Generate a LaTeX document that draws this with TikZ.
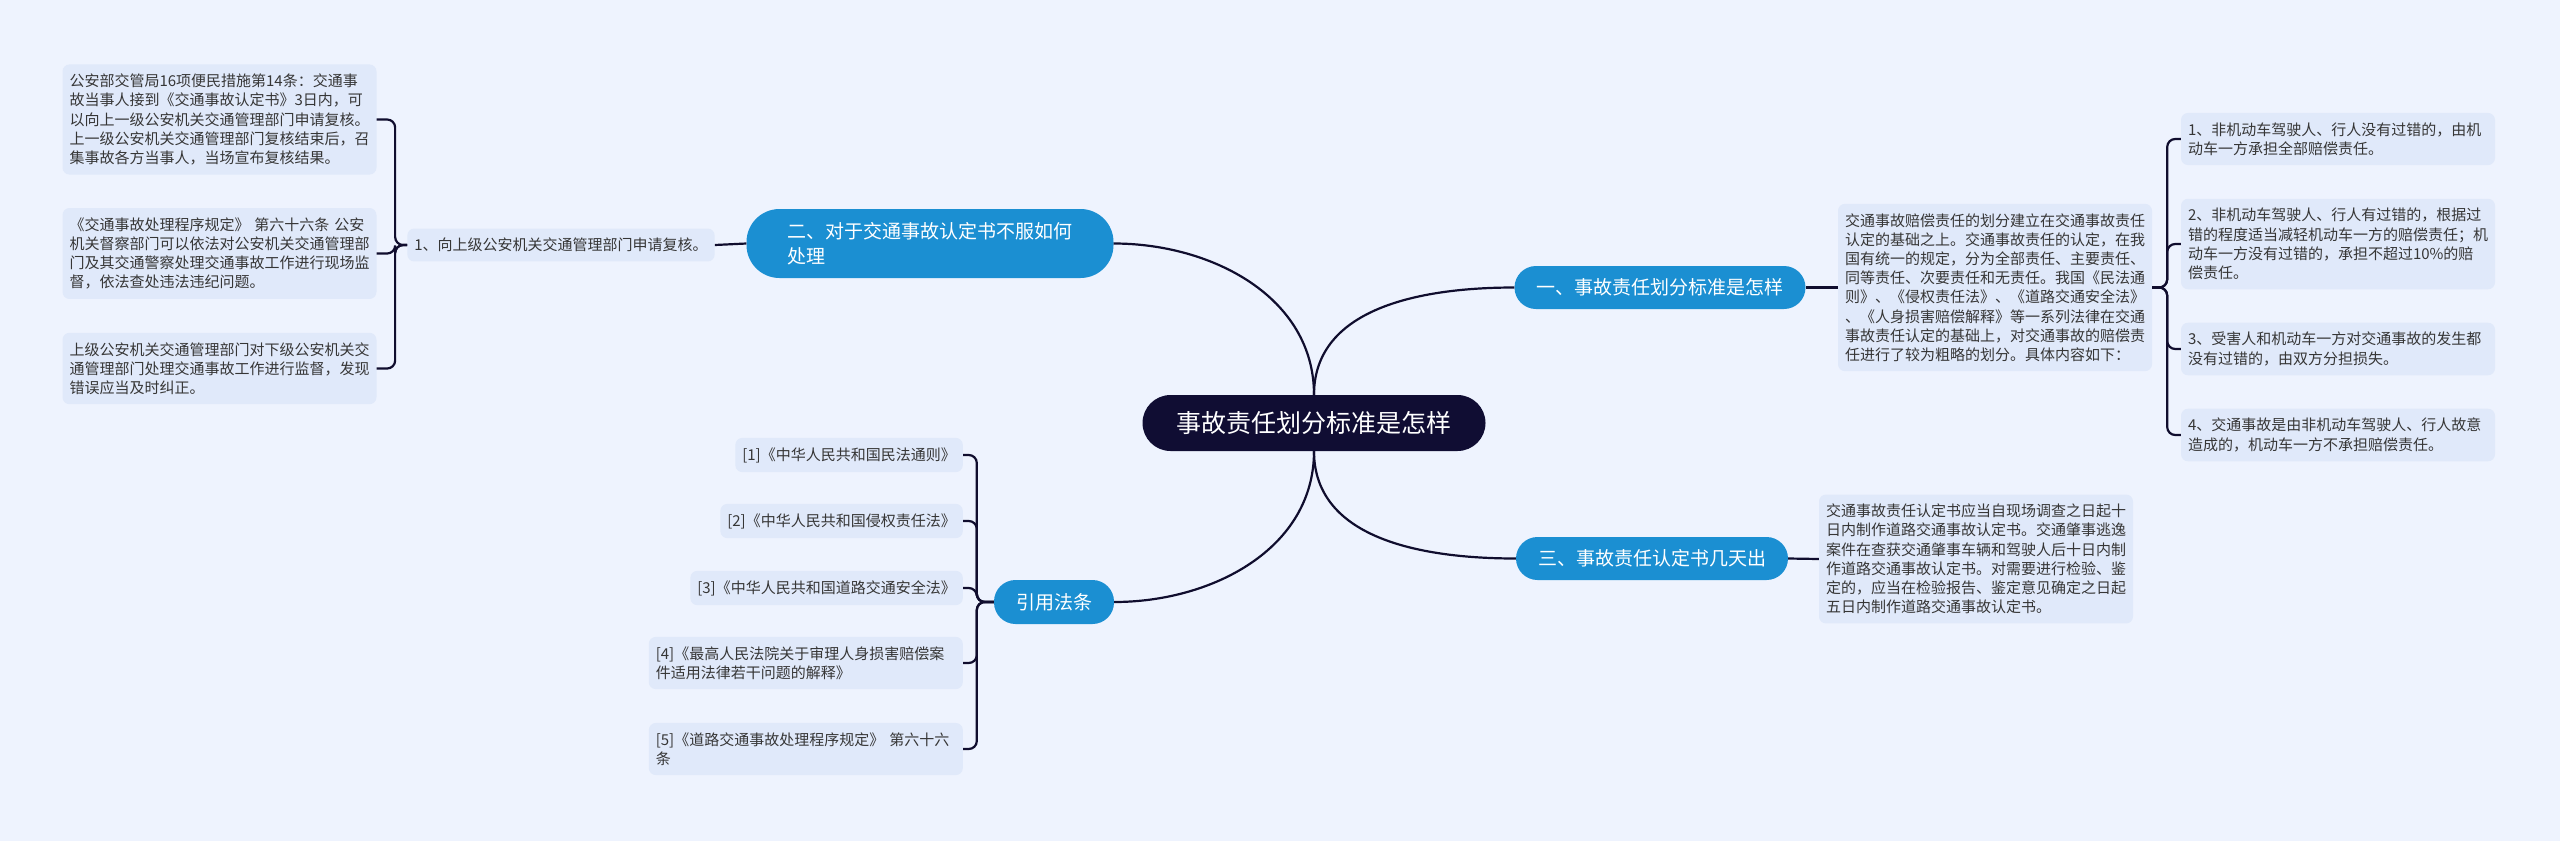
\documentclass[tikz,border=0pt]{standalone}
\usepackage{fontspec}
\setmainfont{Noto Sans CJK SC}
\definecolor{pagebg}{HTML}{EEF3FE}
\definecolor{leafbg}{HTML}{E0E9FA}
\definecolor{branchblue}{HTML}{1B8FD2}
\definecolor{rootnavy}{HTML}{100D33}
\definecolor{linenavy}{HTML}{100D2E}
\definecolor{leaftext}{HTML}{363636}
\begin{document}
\begin{tikzpicture}[x=1pt,y=-1pt,
    rootnode/.style={fill=rootnavy,text=white,rounded corners=28pt,minimum height=56pt,minimum width=343pt,inner ysep=6pt,font=\fontsize{25}{30}\selectfont},
    branch/.style={fill=branchblue,text=white,rounded corners=21.5pt,minimum height=43pt,inner xsep=22pt,inner ysep=6pt,font=\fontsize{19}{25}\selectfont},
    leaf/.style={fill=leafbg,text=leaftext,rounded corners=7pt,inner xsep=7pt,inner ysep=9.5pt,align=left,font=\fontsize{15}{19.2}\selectfont},
    wide/.style={text width=300pt},
    link/.style={draw=linenavy,line width=2.2pt},
    brace/.style={draw=linenavy,line width=2.2pt,rounded corners=8pt}]
    \fill[pagebg] (0,0) rectangle (2560,841);
    % centre
    \node[rootnode] (root) at (1314,423) {事故责任划分标准是怎样};
    % branches
    \node[branch] (b1) at (1660,287.5) {一、事故责任划分标准是怎样};
    \node[branch,align=left,minimum height=69pt,inner xsep=41pt,rounded corners=33pt] (b2) at (930,243.5) {二、对于交通事故认定书不服如何\\处理};
    \node[branch] (b3) at (1652,558.5) {三、事故责任认定书几天出};
    \node[branch,minimum height=44pt] (b4) at (1054,602) {引用法条};
    % first branch
    \node[leaf,wide] (r0) at (1995,287.5) {
        交通事故赔偿责任的划分建立在交通事故责任\\
        认定的基础之上。交通事故责任的认定，在我\\
        国有统一的规定，分为全部责任、主要责任、\\
        同等责任、次要责任和无责任。我国《民法通\\
        则》、《侵权责任法》、《道路交通安全法》\\
        、《人身损害赔偿解释》等一系列法律在交通\\
        事故责任认定的基础上，对交通事故的赔偿责\\
        任进行了较为粗略的划分。具体内容如下：};
    \node[leaf,wide] (r1) at (2338,139) {1、非机动车驾驶人、行人没有过错的，由机\\动车一方承担全部赔偿责任。};
    \node[leaf,wide] (r2) at (2338,244) {2、非机动车驾驶人、行人有过错的，根据过\\错的程度适当减轻机动车一方的赔偿责任；机\\动车一方没有过错的，承担不超过10\%的赔\\偿责任。};
    \node[leaf,wide] (r3) at (2338,349) {3、受害人和机动车一方对交通事故的发生都\\没有过错的，由双方分担损失。};
    \node[leaf,wide] (r4) at (2338,435) {4、交通事故是由非机动车驾驶人、行人故意\\造成的，机动车一方不承担赔偿责任。};
    % second branch
    \node[leaf] (i1) at (561,245) {1、向上级公安机关交通管理部门申请复核。};
    \node[leaf,wide] (l1) at (219.5,119.5) {
        公安部交管局16项便民措施第14条：交通事\\
        故当事人接到《交通事故认定书》3日内，可\\
        以向上一级公安机关交通管理部门申请复核。\\
        上一级公安机关交通管理部门复核结束后，召\\
        集事故各方当事人，当场宣布复核结果。};
    \node[leaf,wide] (l2) at (219.5,253.5) {
        《交通事故处理程序规定》 第六十六条 公安\\
        机关督察部门可以依法对公安机关交通管理部\\
        门及其交通警察处理交通事故工作进行现场监\\
        督，依法查处违法违纪问题。};
    \node[leaf,wide] (l3) at (219.5,368.5) {
        上级公安机关交通管理部门对下级公安机关交\\
        通管理部门处理交通事故工作进行监督，发现\\
        错误应当及时纠正。};
    % third branch
    \node[leaf,wide] (s0) at (1976,559) {
        交通事故责任认定书应当自现场调查之日起十\\
        日内制作道路交通事故认定书。交通肇事逃逸\\
        案件在查获交通肇事车辆和驾驶人后十日内制\\
        作道路交通事故认定书。对需要进行检验、鉴\\
        定的，应当在检验报告、鉴定意见确定之日起\\
        五日内制作道路交通事故认定书。};
    % citations
    \node[leaf,anchor=east] (c1) at (963,455) {[1]《中华人民共和国民法通则》};
    \node[leaf,anchor=east] (c2) at (963,521) {[2]《中华人民共和国侵权责任法》};
    \node[leaf,anchor=east] (c3) at (963,588) {[3]《中华人民共和国道路交通安全法》};
    \node[leaf,wide,anchor=east] (c4) at (963,663) {[4]《最高人民法院关于审理人身损害赔偿案\\件适用法律若干问题的解释》};
    \node[leaf,wide,anchor=east] (c5) at (963,749) {[5]《道路交通事故处理程序规定》 第六十六\\条};
    % connectors
    \draw[link] (root.north) to[out=90,in=0] (b2.east);
    \draw[link] (root.north) to[out=90,in=180] (b1.west);
    \draw[link] (root.south) to[out=-90,in=180] (b3.west);
    \draw[link] (root.south) to[out=-90,in=0] (b4.east);
    \draw[link] (b1.east) -- (r0.west);
    \draw[link] (b2.west) -- (i1.east);
    \draw[link] (b3.east) -- (s0.west);
    \foreach \leaf in {r1,r2,r3,r4}
        \draw[brace] (r0.east) -- ++(15,0) |- (\leaf.west);
    \foreach \leaf in {l1,l2,l3}
        \draw[brace] (i1.west) -- ++(-12,0) |- (\leaf.east);
    \foreach \leaf in {c1,c2,c3,c4,c5}
        \draw[brace] (b4.west) -- ++(-17,0) |- (\leaf.east);
\end{tikzpicture}
\end{document}
